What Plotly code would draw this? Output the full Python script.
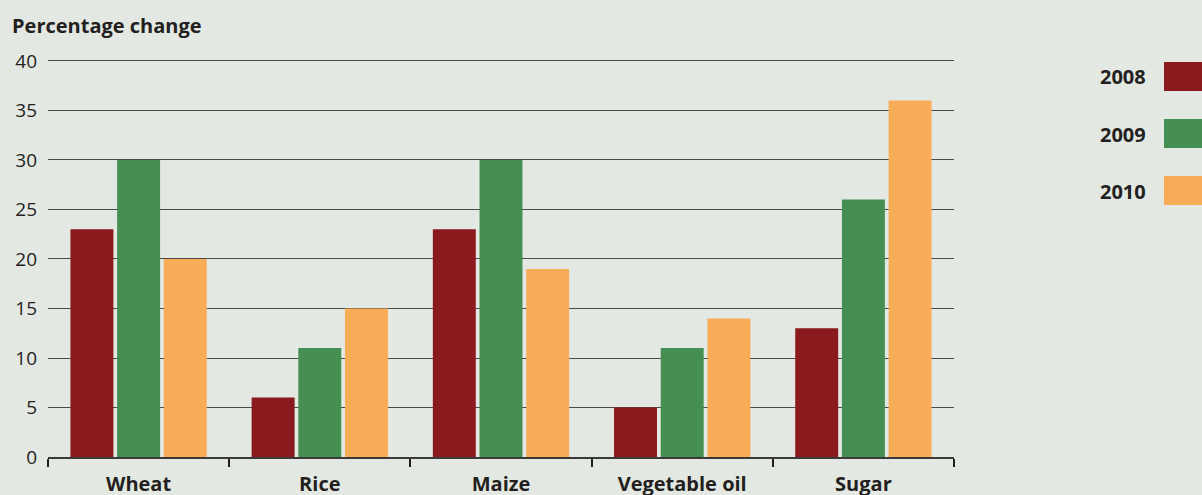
import plotly.graph_objects as go

# commodity price changes, by year
categories = ["Wheat", "Rice", "Maize", "Vegetable oil", "Sugar"]
years = ["2008", "2009", "2010"]
values_2008 = [23, 6, 23, 5, 13]
values_2009 = [30, 11, 30, 11, 26]
values_2010 = [20, 15, 19, 14, 36]
y_ticks = [0, 5, 10, 15, 20, 25, 30, 35, 40]

colors = ["#8b1a1e", "#458f52", "#f9ac57"]
bg = "#e3e8e2"
ink = "#231f20"
font = "Open Sans, Noto Sans, sans-serif"

fig = go.Figure()
for yr, vals, col in zip(years, [values_2008, values_2009, values_2010], colors):
    fig.add_trace(go.Bar(x=categories, y=vals, name=yr, marker_color=col,
                         marker_line_width=0, showlegend=False))

# plot area margins in pixels, used to place the side legend
L, R, T, B = 48, 248, 59, 38
pw, ph = 1202 - L - R, 495 - T - B

def px_x(x):
    return (x - L) / pw

def px_y(y):
    return (495 - B - y) / ph

# hand-made legend: label on the left, big swatch on the right
for i, (yr, col) in enumerate(zip(years, colors)):
    top = 62 + i * 57
    fig.add_shape(type="rect", xref="paper", yref="paper",
                  x0=px_x(1164), x1=px_x(1203), y0=px_y(top + 29), y1=px_y(top),
                  fillcolor=col, line_width=0)
    fig.add_annotation(text="<b>" + yr + "</b>", xref="paper", yref="paper",
                       x=px_x(1148), y=px_y(top + 15), xanchor="right", yanchor="middle",
                       showarrow=False, font=dict(size=20, color=ink, family=font))

fig.add_annotation(text="<b>Percentage change</b>", xref="paper", yref="paper",
                   x=px_x(10), y=px_y(26), xanchor="left", yanchor="middle",
                   showarrow=False, font=dict(size=20, color=ink, family=font))

fig.update_layout(
    width=1202, height=495,
    margin=dict(l=L, r=R, t=T, b=B),
    paper_bgcolor=bg, plot_bgcolor=bg,
    barmode="group", bargap=0.227, bargroupgap=0.08,
    font=dict(family=font, size=19, color=ink),
)
fig.update_xaxes(
    tickson="boundaries", ticks="outside", ticklen=8, tickwidth=2, tickcolor=ink,
    showline=True, linecolor="#3a3a3a", linewidth=1.5, showgrid=False,
    tickfont=dict(size=20, family=font, color=ink), automargin=False,
    tickprefix="<b>", ticksuffix="</b>", ticklabelstandoff=8,
)
fig.update_yaxes(
    range=[0, 40.2], tickvals=y_ticks, showgrid=True, gridcolor="#4a4a4a", gridwidth=1,
    zeroline=False, ticks="", ticklabelstandoff=10, automargin=False,
    tickfont=dict(size=19, family=font, color=ink),
)

fig.write_html("out.html", config={"displayModeBar": False},
               post_script="document.body.style.margin='0';")
